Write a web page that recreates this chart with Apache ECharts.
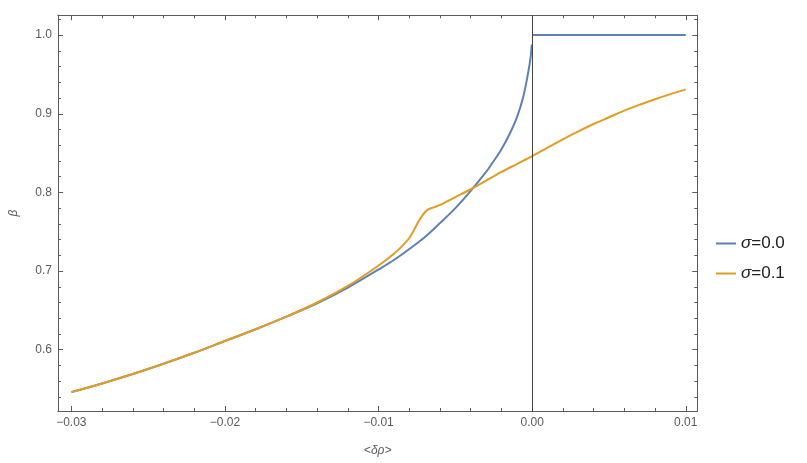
<!DOCTYPE html>
<html>
<head>
<meta charset="utf-8">
<script src="https://cdn.jsdelivr.net/npm/echarts@6/dist/echarts.min.js"></script>
<style>
html,body{margin:0;padding:0;background:#fff;}
#chart{width:807px;height:463px;}
</style>
</head>
<body>
<div id="chart"></div>
<script>
// ---- data ----
const seriesNames = ['σ=0.0', 'σ=0.1'];
const sigma0X = [-0.030,-0.028,-0.026,-0.024,-0.022,-0.020,-0.018,-0.016,-0.014,-0.012,-0.010,-0.009,-0.008,-0.007,-0.006,-0.005,-0.004,-0.003,-0.0025,-0.002,-0.0015,-0.001,-0.0006,-0.0003,-0.0001,-0.00003];
const sigma0Y = [0.546,0.557,0.569,0.582,0.596,0.611,0.626,0.642,0.659,0.679,0.702,0.714,0.728,0.743,0.761,0.780,0.802,0.826,0.840,0.855,0.873,0.895,0.920,0.948,0.972,0.988];
const sigma0FlatX = [0, 0.010];
const sigma0FlatY = [1.0, 1.0];
const sigma1X = [-0.030,-0.028,-0.026,-0.024,-0.022,-0.020,-0.018,-0.016,-0.014,-0.012,-0.010,-0.009,-0.0085,-0.008,-0.0077,-0.0074,-0.0071,-0.0068,-0.0064,-0.006,-0.005,-0.004,-0.003,-0.002,-0.001,0,0.001,0.002,0.003,0.004,0.005,0.006,0.007,0.008,0.009,0.010];
const sigma1Y = [0.546,0.557,0.569,0.582,0.596,0.611,0.626,0.642,0.660,0.681,0.707,0.722,0.731,0.742,0.752,0.763,0.772,0.778,0.781,0.784,0.794,0.804,0.815,0.826,0.836,0.846,0.857,0.8675,0.8775,0.887,0.8955,0.904,0.9115,0.9185,0.925,0.931];
const xMajorTicks = [-0.03,-0.02,-0.01,0.00,0.01];
const xMinorTicks = [-0.028,-0.026,-0.024,-0.022,-0.018,-0.016,-0.014,-0.012,-0.008,-0.006,-0.004,-0.002,0.002,0.004,0.006,0.008];
const yMajorTicks = [0.6,0.7,0.8,0.9,1.0];
const yMinorTicks = [0.54,0.56,0.58,0.62,0.64,0.66,0.68,0.72,0.74,0.76,0.78,0.82,0.84,0.86,0.88,0.92,0.94,0.96,0.98,1.02];
const xRange = [-0.03087, 0.01075];
const yRange = [0.522, 1.0252];

// ---- chart ----
const BLUE = '#5E81B5', ORANGE = '#E19C24', FRAME = '#5c5c5c', TXT = '#5a5a5a';
const FONT = 'Liberation Sans, Arial, sans-serif';
const zip = (xs, ys) => xs.map((x, i) => [x, ys[i]]);
const fmtX = v => { const s = Math.abs(v).toFixed(2); return v < -1e-9 ? '\u2212' + s : s; };

function mkX(pos, major, withLabel, extra) {
  return Object.assign({
    type: 'value', position: pos, min: xRange[0], max: xRange[1],
    axisLine: { show: true, onZero: false, lineStyle: { color: FRAME, width: 1 } },
    axisTick: { show: true, inside: true, length: major ? 5 : 3, lineStyle: { color: FRAME },
      customValues: major ? xMajorTicks : xMinorTicks },
    axisLabel: withLabel ? { show: true, customValues: xMajorTicks, formatter: fmtX, color: TXT,
      fontSize: 12, fontFamily: FONT, margin: 6 } : { show: false },
    splitLine: { show: false }
  }, extra || {});
}
function mkY(pos, major, withLabel, extra) {
  return Object.assign({
    type: 'value', position: pos, min: yRange[0], max: yRange[1],
    axisLine: { show: true, onZero: false, lineStyle: { color: FRAME, width: 1 } },
    axisTick: { show: true, inside: true, length: major ? 5 : 3, lineStyle: { color: FRAME },
      customValues: major ? yMajorTicks : yMinorTicks },
    axisLabel: withLabel ? { show: true, customValues: yMajorTicks, formatter: v => v.toFixed(1), color: TXT,
      fontSize: 12, fontFamily: FONT, margin: 6 } : { show: false },
    splitLine: { show: false }
  }, extra || {});
}

const chart = echarts.init(document.getElementById('chart'), null, { renderer: 'canvas' });
chart.setOption({
  animation: false,
  backgroundColor: '#fff',
  grid: { left: 56.3, right: 109.7, top: 15.3, bottom: 52, containLabel: false },
  legend: {
    orient: 'vertical', left: 716, top: 235, itemGap: 13, padding: 0,
    itemWidth: 20, itemHeight: 2, icon: 'rect',
    formatter: n => '{s|σ}{t|' + n.slice(1) + '}',
    textStyle: { fontSize: 17, fontFamily: FONT, color: '#222',
      rich: { s: { fontStyle: 'italic', fontSize: 17, fontFamily: FONT, color: '#222' },
              t: { fontSize: 17, fontFamily: FONT, color: '#222' } } },
    data: seriesNames
  },
  xAxis: [
    mkX('bottom', true, true, { name: '<δρ>', nameLocation: 'middle', nameGap: 34,
      nameTextStyle: { fontStyle: 'italic', fontSize: 12, color: TXT, fontFamily: FONT } }),
    mkX('bottom', false, false),
    mkX('top', true, false),
    mkX('top', false, false)
  ],
  yAxis: [
    mkY('left', true, true, { name: 'β', nameLocation: 'middle', nameGap: 38,
      nameTextStyle: { fontStyle: 'italic', fontSize: 12, color: TXT, fontFamily: FONT } }),
    mkY('left', false, false),
    mkY('right', true, false),
    mkY('right', false, false)
  ],
  series: [
    {
      name: seriesNames[0], type: 'line', xAxisIndex: 0, yAxisIndex: 0,
      data: zip(sigma0X, sigma0Y).concat([[0, null]]).concat(zip(sigma0FlatX, sigma0FlatY)),
      connectNulls: false,
      showSymbol: false, smooth: 0.35,
      lineStyle: { color: BLUE, width: 2 }, itemStyle: { color: BLUE }, z: 3,
      markLine: {
        silent: true, symbol: ['none', 'none'], label: { show: false },
        lineStyle: { color: '#444', width: 1, type: 'solid' },
        data: [{ xAxis: 0 }]
      }
    },
    {
      name: seriesNames[1], type: 'line', xAxisIndex: 0, yAxisIndex: 0,
      data: zip(sigma1X, sigma1Y),
      showSymbol: false, smooth: 0.35,
      lineStyle: { color: ORANGE, width: 2 }, itemStyle: { color: ORANGE }, z: 4
    }
  ]
});
</script>
</body>
</html>
